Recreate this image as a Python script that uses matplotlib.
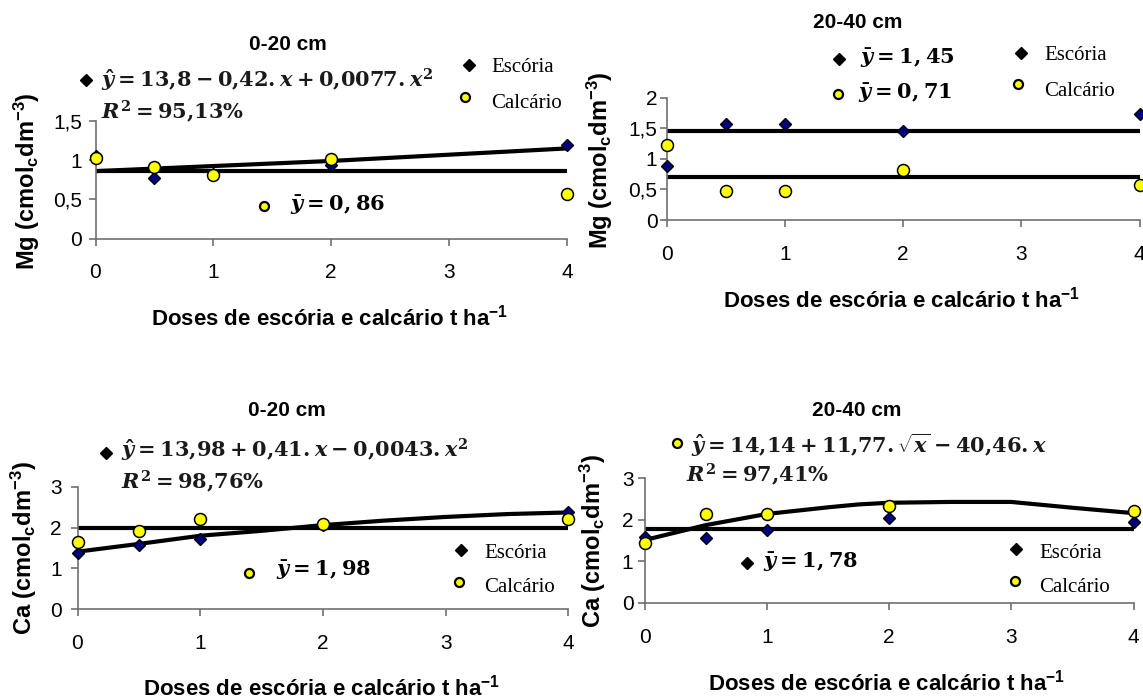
import matplotlib.pyplot as plt
from matplotlib.lines import Line2D

plt.rcParams['font.family'] = ['Liberation Sans', 'DejaVu Sans']
plt.rcParams['mathtext.fontset'] = 'custom'
plt.rcParams['mathtext.rm'] = 'DejaVu Serif:bold'
plt.rcParams['mathtext.it'] = 'DejaVu Serif:italic:bold'
plt.rcParams['mathtext.bf'] = 'DejaVu Serif:bold'
plt.rcParams['mathtext.sf'] = 'Liberation Sans:bold'

# doses (t/ha)
doses = [0, 0.5, 1, 2, 4]

# Mg 0-20 cm
mg20_escoria = [1.05, 0.77, 0.82, 0.94, 1.20]
mg20_calcario = [1.03, 0.91, 0.81, 1.02, 0.57]
mg20_fit_x = [0, 2, 4]
mg20_fit_y = [0.86, 0.99, 1.15]
mg20_mean = 0.86

# Mg 20-40 cm
mg40_escoria = [0.88, 1.57, 1.57, 1.46, 1.74]
mg40_calcario = [1.23, 0.48, 0.48, 0.81, 0.58]
mg40_mean_escoria = 1.45
mg40_mean_calcario = 0.71

# Ca 0-20 cm
ca20_escoria = [1.37, 1.57, 1.72, 2.06, 2.39]
ca20_calcario = [1.65, 1.91, 2.22, 2.09, 2.21]
ca20_fit_x = [0, 0.5, 1, 1.5, 2, 2.5, 3, 3.5, 4]
ca20_fit_y = [1.41, 1.60, 1.80, 1.92, 2.06, 2.17, 2.26, 2.33, 2.37]
ca20_mean = 1.98

# Ca 20-40 cm
ca40_escoria = [1.58, 1.55, 1.75, 2.04, 1.94]
ca40_calcario = [1.43, 2.14, 2.14, 2.33, 2.20]
ca40_fit_x = [0, 0.5, 1, 1.25, 1.5, 1.75, 2, 2.5, 3, 3.5, 4]
ca40_fit_y = [1.51, 1.87, 2.14, 2.22, 2.30, 2.37, 2.41, 2.43, 2.43, 2.29, 2.16]
ca40_mean = 1.78

xlabel = r'Doses de escória e calcário t ha$^{\mathsf{-1}}$'
mg_label = r'Mg (cmol$_{\mathsf{c}}$dm$^{\mathsf{-3}}$)'
ca_label = r'Ca (cmol$_{\mathsf{c}}$dm$^{\mathsf{-3}}$)'

W, H = 1143, 700
fig = plt.figure(figsize=(W / 100, H / 100), dpi=100)
fig.patch.set_facecolor('white')


def fx(x):
    return x / W


def fy(y):
    return 1 - y / H


def make_axes(left, top, right, bottom, ymax, yticks, ylabels, ypad):
    ax = fig.add_axes([fx(left), fy(bottom), (right - left) / W, (bottom - top) / H])
    ax.set_xlim(0, 4)
    ax.set_ylim(0, ymax)
    ax.set_xticks(range(5))
    ax.set_yticks(yticks)
    ax.set_yticklabels(ylabels)
    ax.spines[['top', 'right']].set_visible(False)
    for s in ('left', 'bottom'):
        ax.spines[s].set_color('#6f6f6f')
        ax.spines[s].set_linewidth(1.2)
    ax.tick_params(direction='out', length=5, width=1.2, color='#6f6f6f', labelsize=15)
    ax.tick_params(axis='x', pad=13)
    ax.tick_params(axis='y', pad=ypad)
    ax.patch.set_alpha(0)
    return ax


def points(ax, esc, cal):
    ax.plot(doses, esc, ls='none', marker='D', ms=6.2, mfc='#000080', mec='black',
            mew=1, clip_on=False, zorder=3)
    ax.plot(doses, cal, ls='none', marker='o', ms=8.6, mfc='#ffff00', mec='black',
            mew=1.1, clip_on=False, zorder=3)


def mean_line(ax, m):
    ax.plot([doses[0], doses[-1]], [m, m], color='black', lw=3, solid_capstyle='butt', zorder=2)


def fmark(x, y, kind):
    if kind == 'esc':
        m = Line2D([fx(x)], [fy(y)], transform=fig.transFigure, marker='D', ms=6.5,
                   color='black', ls='none')
    else:
        m = Line2D([fx(x)], [fy(y)], transform=fig.transFigure, marker='o', ms=6.5,
                   mfc='#ffff00', mec='black', mew=1.6, ls='none')
    fig.add_artist(m)


def ftext(x, y, s, **kw):
    kw.setdefault('va', 'center')
    kw.setdefault('ha', 'left')
    fig.text(fx(x), fy(y), s, **kw)


def legend(xd, yd, xc, yc, xt, yt1, yt2):
    fmark(xd, yd, 'esc')
    fmark(xc, yc, 'cal')
    ftext(xt, yt1, 'Escória', family='Liberation Serif', fontsize=15)
    ftext(xt, yt2, 'Calcário', family='Liberation Serif', fontsize=15)


eq_kw = dict(fontsize=15, color='#1a1a1a')
mean_kw = dict(fontsize=15, color='black')

# ---- Mg 0-20 cm
ax1 = make_axes(95.5, 121, 567, 238.5, 1.5, [0, 0.5, 1, 1.5], ['0', '0,5', '1', '1,5'], 4.5)
ax1.plot(mg20_fit_x, mg20_fit_y, color='black', lw=3, zorder=2)
mean_line(ax1, mg20_mean)
points(ax1, mg20_escoria, mg20_calcario)
ftext(288, 45, '0-20 cm', ha='center', fontsize=15, fontweight='bold')
ftext(330, 318, xlabel, ha='center', fontsize=16, fontweight='bold')
ftext(27, 181, mg_label, ha='center', rotation=90, fontsize=17, fontweight='bold')
fmark(86, 80, 'esc')
ftext(101, 80, r'$\hat{y} = 13{,}8 - 0{,}42.x + 0{,}0077.x^2$', **eq_kw)
ftext(101, 112, r'$R^2 = 95{,}13\%$', **eq_kw)
fmark(264, 206, 'cal')
ftext(290, 205, r'$\bar{y} = 0,86$', **mean_kw)
legend(469, 65, 465, 97, 491, 68, 103)

# ---- Mg 20-40 cm
ax2 = make_axes(666.5, 97.7, 1139.5, 220, 2, [0, 0.5, 1, 1.5, 2], ['0', '0,5', '1', '1,5', '2'], 1.5)
mean_line(ax2, mg40_mean_escoria)
mean_line(ax2, mg40_mean_calcario)
points(ax2, mg40_escoria, mg40_calcario)
ftext(858, 22, '20-40 cm', ha='center', fontsize=15, fontweight='bold')
ftext(902, 300, xlabel, ha='center', fontsize=16, fontweight='bold')
ftext(600, 160, mg_label, ha='center', rotation=90, fontsize=17, fontweight='bold')
fmark(839, 59, 'esc')
ftext(860, 58, r'$\bar{y} = 1,45$', **mean_kw)
fmark(838, 94, 'cal')
ftext(858, 93, r'$\bar{y} = 0,71$', **mean_kw)
legend(1021, 53, 1018, 84, 1044, 55, 91)

# ---- Ca 0-20 cm
ax3 = make_axes(77.5, 486.7, 568.3, 609.3, 3, [0, 1, 2, 3], ['0', '1', '2', '3'], 6.5)
ax3.plot(ca20_fit_x, ca20_fit_y, color='black', lw=3, zorder=2)
mean_line(ax3, ca20_mean)
points(ax3, ca20_escoria, ca20_calcario)
ftext(287, 410, '0-20 cm', ha='center', fontsize=15, fontweight='bold')
ftext(322, 688, xlabel, ha='center', fontsize=16, fontweight='bold')
ftext(24, 548, ca_label, ha='center', rotation=90, fontsize=17, fontweight='bold')
fmark(106, 453, 'esc')
ftext(121, 450, r'$\hat{y} = 13{,}98 + 0{,}41.x - 0{,}0043.x^2$', **eq_kw)
ftext(121, 482, r'$R^2 = 98{,}76\%$', **eq_kw)
fmark(249, 573, 'cal')
ftext(276, 570, r'$\bar{y} = 1,98$', **mean_kw)
legend(460.5, 550, 459, 582, 484, 553, 587)

# ---- Ca 20-40 cm
ax4 = make_axes(644.5, 478.3, 1133.5, 602.7, 3, [0, 1, 2, 3], ['0', '1', '2', '3'], 3)
ax4.plot(ca40_fit_x, ca40_fit_y, color='black', lw=3, zorder=2)
mean_line(ax4, ca40_mean)
points(ax4, ca40_escoria, ca40_calcario)
ftext(857, 410, '20-40 cm', ha='center', fontsize=15, fontweight='bold')
ftext(887, 683, xlabel, ha='center', fontsize=16, fontweight='bold')
ftext(593, 541, ca_label, ha='center', rotation=90, fontsize=17, fontweight='bold')
fmark(676.5, 443, 'cal')
ftext(691, 445, r'$\hat{y} = 14{,}14 + 11{,}77.\sqrt{x} - 40{,}46.x$', **eq_kw)
ftext(685.5, 475, r'$R^2 = 97{,}41\%$', **eq_kw)
fmark(747, 563, 'esc')
ftext(763, 562, r'$\bar{y} = 1,78$', **mean_kw)
legend(1016, 549, 1014.5, 581, 1039, 553, 587)

fig.savefig('out.png', dpi=100, facecolor='white')
